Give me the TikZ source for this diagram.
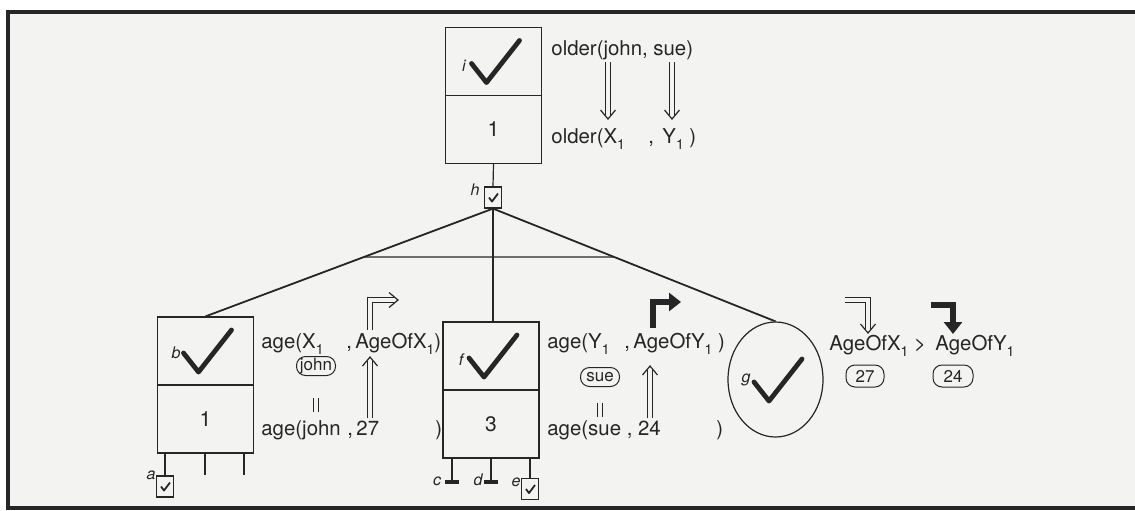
\documentclass[tikz,border=0pt]{standalone}
\usepackage{fontspec}
\setmainfont{TeX Gyre Heros}
\usetikzlibrary{arrows.meta,shapes.geometric,intersections,calc}
\definecolor{ink}{RGB}{38,38,38}
\definecolor{paper}{RGB}{243,243,241}
\newcommand{\sone}{\raisebox{-3pt}{\fontsize{7}{8}\selectfont 1}}
\tikzset{
  goal/.style={draw=ink,line width=0.6pt,minimum width=48pt,minimum height=68pt,inner sep=0pt},
  tickbox/.style={draw=ink,line width=0.6pt,minimum width=8.5pt,minimum height=10.5pt,inner sep=0pt},
  lettag/.style={font=\fontsize{8}{9}\selectfont\itshape,inner sep=0pt,text=ink},
  term/.style={font=\fontsize{10.2}{12}\selectfont,inner sep=0pt,anchor=base west,text=ink},
  goalnum/.style={font=\fontsize{10.5}{12}\selectfont,inner sep=0pt,text=ink},
  bind/.style={draw=ink,line width=0.5pt,rounded corners=4.5pt,font=\fontsize{8.5}{10}\selectfont,inner sep=0pt,minimum height=9.5pt,minimum width=19.5pt,text=ink},
  pass/.style={draw=ink,line width=0.55pt,double=paper,double distance=1.8pt,shorten >=1.8pt},
  boldpass/.style={draw=ink,line width=2.8pt,line join=miter,-{Triangle[width=9pt,length=6pt]}},
  slant/.style={draw=ink,line width=0.9pt},
  stem/.style={draw=ink,line width=0.6pt},
  vhead/.pic={\draw[ink,line width=0.6pt,line join=miter] (-7.5,-9) -- (0,0) -- (7.5,-9);},
  bigtick/.pic={\draw[ink,line width=2.4pt,line cap=round,line join=round] (-22,2) -- (-7,21) -- (26,-21);},
  smalltick/.pic={\draw[ink,line width=0.9pt,line join=round] (-4,0) -- (-1,4) -- (5,-4);},
  eqbar/.pic={\draw[ink,line width=0.7pt] (-2.5,-7) -- (-2.5,7) (2.5,-7) -- (2.5,7);}
}
\begin{document}
\begin{tikzpicture}[x=0.5pt,y=-0.5pt]
\useasboundingbox (0,0) rectangle (1135,510);
\fill[white] (0,0) rectangle (1135,510);
\draw[line width=1.8pt,draw=black!85,fill=paper] (8,12) rectangle (1180,508);
% goals
\node[goal] (i) at (493.5,95.5) {};
\node[goal] (b) at (205.5,385) {};
\node[goal] (f) at (491,390) {};
\node[draw=ink,line width=0.6pt,ellipse,minimum width=47.5pt,minimum height=57.5pt,inner sep=0pt] (g) at (775.5,379.5) {};
\foreach \n/\k in {i/1,b/1,f/3} {
   \draw[stem] (\n.west) -- (\n.east);
   \pic at ($(\n.center)+(0,-34)$) {bigtick};
   \node[goalnum] (n\n) at ($(\n.center)+(0,34)$) {\k};
}
\pic at (776,380) {bigtick};
\node[tickbox] (h) at (493,197.5) {};
\node[tickbox] (a) at (165,486.5) {};
\node[tickbox] (e) at (530,489) {};
\foreach \n in {h,a,e} \pic at (\n.center) {smalltick};
\foreach \n/\x/\y in {i/464/66,h/475/190,b/176/353,a/151/475,f/461/360,c/437/481,d/478/480,e/516/482,g/746/380} {
   \node[lettag] (l\n) at (\x,\y) {\n};
}
% and/or links
\draw[stem] (i.south) -- (h.north);
\draw[slant,name path=lb] (h.south) -- (b.north);
\draw[stem] (h.south) -- (h.south |- f.north);
\draw[slant,name path=rg] (h.south) -- (g.north);
\path[name path=bar] (300,257) -- (700,257);
\path[name intersections={of=lb and bar,by=barl}];
\path[name intersections={of=rg and bar,by=barr}];
\draw[stem] (barl) -- (barr);
\draw[stem] (a.north) -- (a.north |- b.south);
\foreach \n/\x in {b2/205,b3/244} {
   \coordinate (\n) at (\x,475);
   \draw[stem] (\n) -- (\n |- b.south);
}
\foreach \n/\x in {c/452,d/491} {
   \coordinate (\n) at (\x,482);
   \draw[stem] (\n) -- (\n |- f.south);
   \draw[ink,line width=1.6pt] ([xshift=-3.5pt]\n) -- ([xshift=3.5pt]\n);
}
\draw[stem] (e.north) -- (e.north |- f.south);
% top goal
\node[term] (q1) at (551,55) {older(john, sue)};
\node[term] (q2) at (551,143) {older(X\sone};
\node[term] (q3) at (648,143) {,};
\node[term] (q4) at (662,143) {Y\sone\ )};
\coordinate (p1) at (608,62);  \coordinate (p2) at (608,119);
\coordinate (p3) at (672,62);  \coordinate (p4) at (672,119);
\draw[pass] (p1) -- (p2);
\draw[pass] (p3) -- (p4);
\pic at (p2) {vhead};
\pic at (p4) {vhead};
% age of X
\node[term] (b1) at (261,348) {age(X\sone};
\node[term] (bx) at (346,348) {,\,AgeOfX\sone)};
\node[bind] (john) at (316,366) {john};
\pic at (316,405) {eqbar};
\node[term] (b4) at (261,435) {age(john};
\node[term] (b5) at (347,435) {,\,27};
\node[term] (b6) at (435,435) {)};
\coordinate (u1) at (370,418); \coordinate (u2) at (370,357);
\coordinate (v1) at (370,330); \coordinate (v2) at (398,300);
\draw[pass] (u1) -- (u2);
\draw[pass] (v1) |- (v2);
\pic[rotate=180] at (u2) {vhead};
\pic[rotate=90] at (v2) {vhead};
% age of Y
\node[term] (f1) at (547,348) {age(Y\sone};
\node[term] (fy) at (624,348) {,\,AgeOfY\sone\ )};
\node[bind] (sue) at (600,377) {sue};
\pic at (600,410) {eqbar};
\node[term] (f3) at (547,435) {age(sue ,\ 24};
\node[term] (f4) at (716,435) {)};
\coordinate (w1) at (650,418); \coordinate (w2) at (650,366);
\coordinate (z1) at (653,328); \coordinate (z2) at (681,302);
\draw[pass] (w1) -- (w2);
\pic[rotate=180] at (w2) {vhead};
\draw[boldpass] (z1) |- (z2);
% test
\node[term] (r1) at (829,350) {AgeOfX\sone\ >};
\node[term] (r2) at (935,350) {AgeOfY\sone};
\node[bind,minimum width=19pt,minimum height=11pt] (v27) at (865,376) {27};
\node[bind,minimum width=20pt,minimum height=11pt] (v24) at (953,376) {24};
\coordinate (s1) at (845,300); \coordinate (s2) at (868,333);
\coordinate (t1) at (931,305); \coordinate (t2) at (953,334);
\draw[pass] (s1) -| (s2);
\pic at (s2) {vhead};
\draw[boldpass] (t1) -| (t2);
\end{tikzpicture}
\end{document}
